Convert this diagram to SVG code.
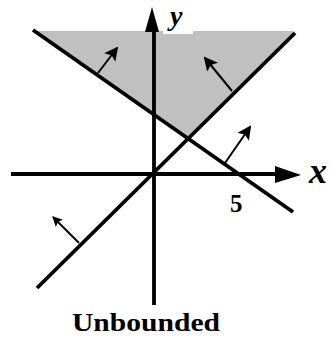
<svg xmlns="http://www.w3.org/2000/svg" width="331" height="337" viewBox="0 0 331 337">
<defs>
<style>
.ln{stroke:#000;stroke-width:3.8;fill:none;stroke-linecap:butt}
.nm{stroke:#000;stroke-width:2;fill:none}
.lbl{font-family:"Liberation Serif",serif;font-weight:bold;fill:#000}
.it{font-style:italic}
</style>
<marker id="nh" markerWidth="14" markerHeight="14" refX="12" refY="7" orient="auto" markerUnits="userSpaceOnUse" viewBox="0 0 14 14">
<path d="M0,0 L14,7 L0,14 L3,7 Z" fill="#000"/>
</marker>
<marker id="sh" markerWidth="10" markerHeight="10" refX="9" refY="5" orient="auto" markerUnits="userSpaceOnUse" viewBox="0 0 10 10">
<path d="M0,0 L10,5 L0,10 L2,5 Z" fill="#000"/>
</marker>
</defs>
<g id="region">
<polygon points="33,31 295,31 188,139" fill="#c0c0c0"/>
<rect x="163" y="30" width="30" height="4" fill="#fff"/>
</g>
<g id="connectors">
<line id="line1" class="ln" x1="33" y1="30" x2="293" y2="212"/>
<line id="line2" class="ln" x1="37" y1="288" x2="295" y2="33"/>
<line id="x-axis" class="ln" x1="11" y1="174" x2="278" y2="174"/>
<polygon points="275,166 301,175 275,183" fill="#000"/>
<line id="y-axis" class="ln" x1="154" y1="305" x2="154" y2="30"/>
<polygon points="145,32 152,7 159,32" fill="#000"/>
<line class="nm" x1="98" y1="73" x2="117" y2="48" marker-end="url(#nh)"/>
<line class="nm" x1="232" y1="91" x2="205" y2="58" marker-end="url(#nh)"/>
<line class="nm" x1="225" y1="163" x2="250" y2="127" marker-end="url(#nh)"/>
<line class="nm" x1="79" y1="243" x2="53" y2="217" stroke-width="1.5" marker-end="url(#sh)"/>
</g>
<g id="labels">
<text class="lbl it" x="170" y="25" font-size="28">y</text>
<text class="lbl it" x="309" y="183" font-size="36">x</text>
<text class="lbl" x="230" y="212" font-size="25">5</text>
<text class="lbl" x="72" y="331" font-size="26" textLength="148" lengthAdjust="spacingAndGlyphs">Unbounded</text>
</g>
</svg>
